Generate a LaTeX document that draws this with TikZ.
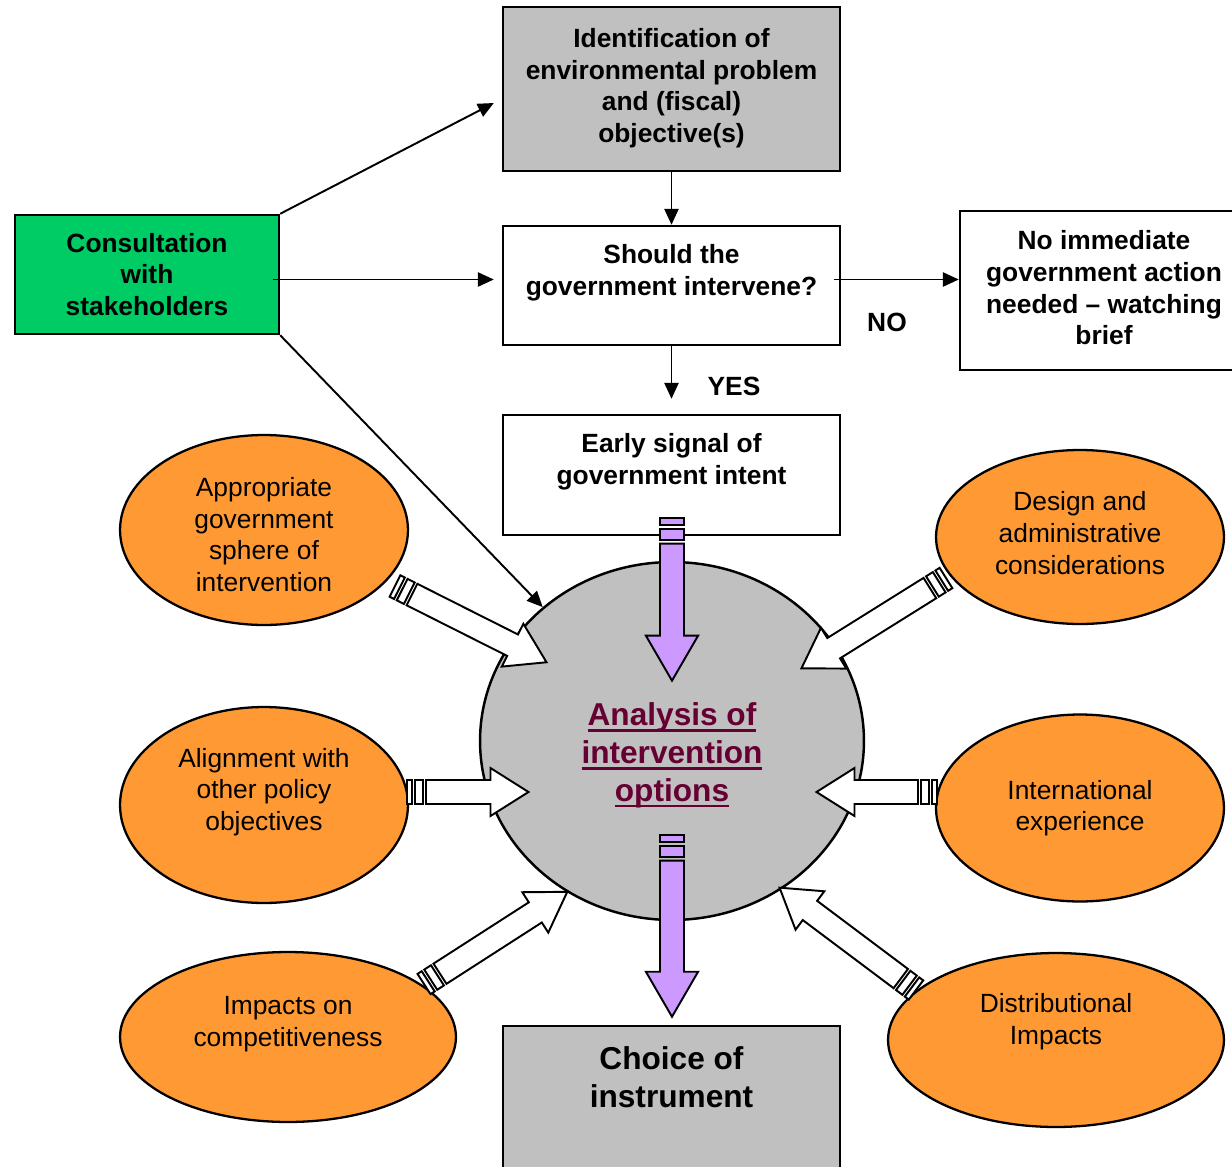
\documentclass[tikz,border=0pt]{standalone}
\usepackage{fontspec}
\setsansfont{Liberation Sans}
\usetikzlibrary{arrows.meta,shapes.geometric,calc}

\definecolor{boxgray}{HTML}{C0C0C0}
\definecolor{consgreen}{HTML}{00CC66}
\definecolor{ovalorange}{HTML}{FF9933}
\definecolor{arrowlilac}{HTML}{CC99FF}
\definecolor{linkmaroon}{HTML}{660033}

% thick underline for the centre text
\newcommand{\thickul}[1]{\leavevmode\setbox0=\hbox{#1}\rlap{\rule[-3.6pt]{\wd0}{1.5pt}}\box0}

% block arrow with two stripes at the tail: fill, tail, tip, stripe scale
\newcommand{\tailarrow}[4]{%
  \coordinate (tail) at #2;
  \coordinate (tip) at #3;
  \path let \p1 = ($(tip)-(tail)$) in
    \pgfextra{\pgfmathsetmacro{\arang}{atan2(\y1,\x1)}%   direction
              \pgfmathsetmacro{\arlen}{veclen(\x1,\y1)/0.5669}% length in px
              \xdef\arang{\arang}\xdef\arlen{\arlen}};
  \pgfmathsetmacro{\hlen}{38+20*(#4-1)}%                   head length
  \pgfmathsetmacro{\hwid}{24+6*(#4-1)}%                    head half width
  \begin{scope}[shift={(tail)}, rotate=\arang, x=0.02cm, y=0.02cm, line width=1.1pt]
    \draw[fill=#1] (0,-12) rectangle (5*#4,12);
    \draw[fill=#1] (8*#4,-12) rectangle (16*#4,12);
    \draw[fill=#1] (19*#4,-12) -- (\arlen-\hlen,-12) -- (\arlen-\hlen,-\hwid)
      -- (\arlen,0) -- (\arlen-\hlen,\hwid) -- (\arlen-\hlen,12) -- (19*#4,12) -- cycle;
  \end{scope}}

\begin{document}
\begin{tikzpicture}[x=0.02cm, y=-0.02cm, line join=miter,
    nodes = {font=\sffamily\fontsize{15}{18}\selectfont, align=center},
    box/.style  = {draw, line width=1.4pt, rectangle, inner sep=2pt},
    oval/.style = {draw, line width=1.3pt, ellipse, fill=ovalorange, inner sep=0pt},
    link/.style = {line width=1.1pt, -{Triangle[length=9pt,width=8pt]}},
    tag/.style  = {font=\sffamily\bfseries\fontsize{15}{18}\selectfont}]
  \useasboundingbox (0,0) rectangle (1232,1167);
  \clip (0,0) rectangle (1232,1167);

  % main column of boxes
  \node[box, fill=boxgray, minimum width=6.74cm, minimum height=3.28cm, font=\sffamily\bfseries\fontsize{15}{18}\selectfont]
    (ident) at (671.5,89) {Identification of\\environmental problem\\and (fiscal)\\objective(s)\\[-14pt]~};
  \node[box, minimum width=6.74cm, minimum height=2.38cm, font=\sffamily\bfseries\fontsize{15}{18}\selectfont]
    (should) at (671.5,285.5) {Should the\\government intervene?\\~};
  \node[box, minimum width=5.76cm, minimum height=3.18cm, font=\sffamily\bfseries\fontsize{15}{18}\selectfont]
    (none) at (1104,290.5) {No immediate\\government action\\needed – watching\\brief\\[-15pt]~};
  \node[box, fill=consgreen, minimum width=5.28cm, minimum height=2.38cm, font=\sffamily\bfseries\fontsize{15}{18}\selectfont]
    (cons) at (147,274.5) {Consultation\\with\\stakeholders};
  \node[box, minimum width=6.74cm, minimum height=2.4cm, font=\sffamily\bfseries\fontsize{15}{18}\selectfont]
    (early) at (671.5,475) {Early signal of\\government intent\\~};
  \node[box, fill=boxgray, minimum width=6.74cm, anchor=north, inner ysep=0.40cm, text depth=2.4cm,
    font=\sffamily\bfseries\fontsize{18}{21.6}\selectfont]
    (choice) at (671.5,1025) {Choice of\\instrument};

  % centre of the picture
  \node[draw, ellipse, line width=1.4pt, fill=boxgray, minimum width=7.68cm, minimum height=7.16cm,
    text=linkmaroon, font=\sffamily\bfseries\fontsize{18}{21.6}\selectfont]
    (anal) at (672,741) {\rule{0pt}{29pt}\thickul{Analysis of}\\\thickul{intervention}\\\thickul{options}};

  % surrounding considerations
  \node[oval, minimum width=5.76cm, minimum height=3.8cm]  (sphere) at (264,530)  {\rule{0pt}{16pt}Appropriate\\government\\sphere of\\intervention};
  \node[oval, minimum width=5.76cm, minimum height=3.92cm] (align)  at (264,805)  {Alignment with\\other policy\\objectives\\~};
  \node[oval, minimum width=6.72cm, minimum height=3.4cm]  (compet) at (288,1037) {Impacts on\\competitiveness\\~};
  \node[oval, minimum width=5.76cm, minimum height=3.48cm] (design) at (1080,537) {Design and\\administrative\\considerations\\[-13.5pt]~};
  \node[oval, minimum width=5.76cm, minimum height=3.74cm] (intl)   at (1080,808) {International\\experience};
  \node[oval, minimum width=6.72cm, minimum height=3.48cm] (distr)  at (1056,1040) {Distributional\\Impacts\\[6pt]~};

  % connectors
  \draw[link] (ident) -- (should);
  \draw[link] (cons.north east) -- ($(ident.west)+(-8,14)$);
  \draw[link] ($(cons.east)+(-7,5)$) -- ($(should.west)+(-8,-6)$);
  \draw[link] (cons.south east) -- (anal);
  \draw[link] ($(should.east)+(-7,-6)$) -- ($(none.west)+(0,-11)$);
  \draw[link] (should.south) -- ($(early.north)+(0,-15)$);
  \node[tag] (no)  at (887,322) {NO};
  \node[tag] (yes) at (734,386) {YES};

  % block arrows into and out of the analysis
  \tailarrow{white}{(395,586)}{(546,662)}{1}
  \tailarrow{white}{(407,792)}{(528,792)}{1}
  \tailarrow{white}{(424,984)}{(567,892)}{1}
  \tailarrow{white}{(946,578)}{(802,668)}{1}
  \tailarrow{white}{(937,792)}{(817,792)}{1}
  \tailarrow{white}{(916,990)}{(780,888)}{1}
  \tailarrow{arrowlilac}{(672,518)}{(672,680)}{1.35}
  \tailarrow{arrowlilac}{(672,835)}{(672,1016)}{1.35}
\end{tikzpicture}
\end{document}
